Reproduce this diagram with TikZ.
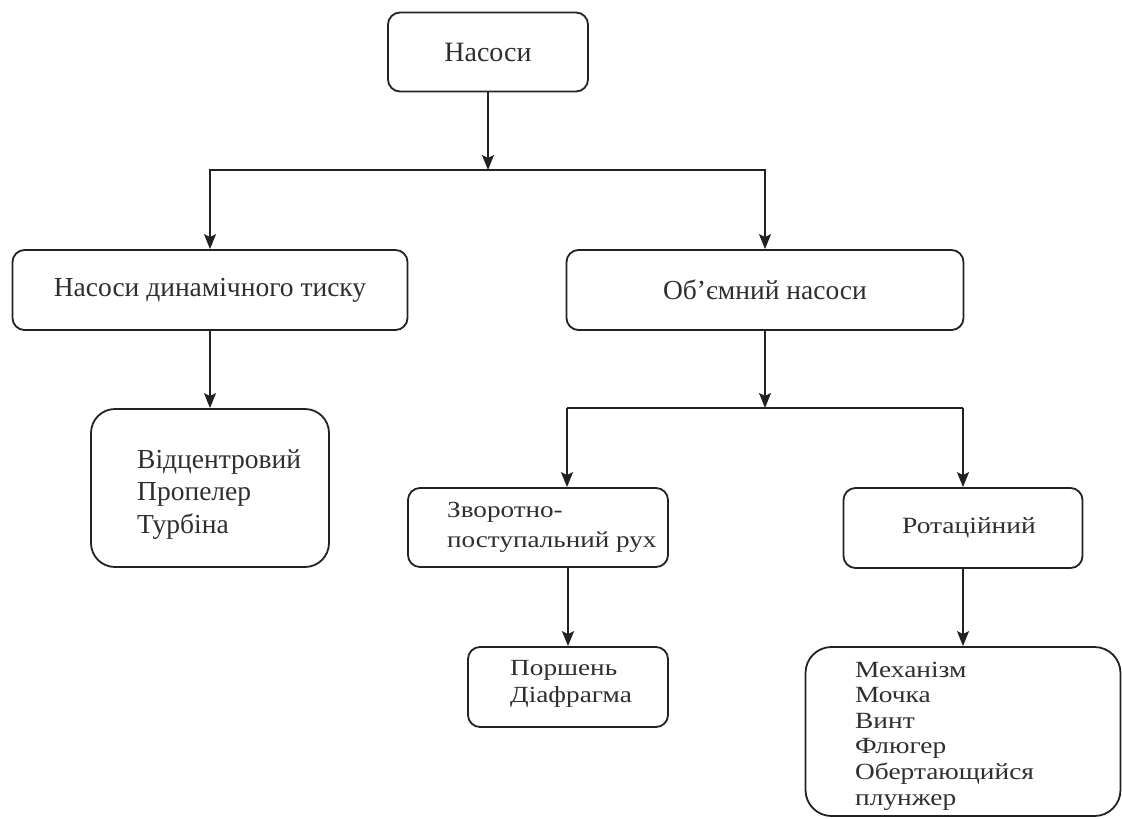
\documentclass[tikz,border=0pt]{standalone}
\usepackage{fontspec}
\setmainfont{Liberation Serif}
\newfontfamily\widefont[FakeStretch=1.18]{Liberation Serif}
\usetikzlibrary{arrows.meta}
\definecolor{ink}{HTML}{222222}
\definecolor{txt}{HTML}{2e2e2e}
\begin{document}
\begin{tikzpicture}[x=1pt,y=-1pt,
  box/.style={draw=ink,line width=1.8pt,rounded corners=#1,inner sep=0pt},
  box/.default=12pt,
  lst/.style={text=txt,inner sep=0pt,align=left,anchor=west},
  arr/.style={draw=ink,line width=1.8pt,-{Stealth[length=15pt,width=12pt,inset=3pt]}},
  ln/.style={draw=ink,line width=1.8pt}]
\useasboundingbox (0,0) rectangle (1122,819);
% boxes
\node[box,minimum width=200pt,minimum height=79pt,font=\fontsize{28}{32}\selectfont,text=txt] (A) at (488,52) {Насоси};
\node[box,minimum width=395pt,minimum height=80pt,font=\fontsize{27.5}{32}\selectfont,text=txt] (B) at (210,290) {Насоси динамічного тиску};
\node[box,minimum width=397pt,minimum height=80pt,font=\fontsize{27.5}{32}\selectfont,text=txt] (C) at (765,290) {Об’ємний насоси};
\node[box=24pt,minimum width=238pt,minimum height=158pt] (D) at (210,488) {};
\node[lst,font=\fontsize{27.5}{32.5}\selectfont] (Dt) at (137,494.5) {Відцентровий\\Пропелер\\Турбіна};
\node[box,minimum width=260pt,minimum height=79pt] (E) at (538,527.5) {};
\node[lst,font=\widefont\fontsize{23}{30}\selectfont] (Et) at (447,527) {Зворотно-\\поступальний рух};
\node[box,minimum width=200pt,minimum height=80pt] (F) at (568,687) {};
\node[lst,font=\widefont\fontsize{23.1}{27}\selectfont] (Ft) at (510,683.5) {Поршень\\Діафрагма};
\node[box,minimum width=239pt,minimum height=80pt,font=\widefont\fontsize{23.3}{26}\selectfont,text=txt] (G) at (963,528) {\hspace*{12pt}Ротаційний};
\node[box=26pt,minimum width=315pt,minimum height=169pt] (H) at (963,731.5) {};
\node[lst,font=\widefont\fontsize{23.2}{25.6}\selectfont] (Ht) at (855,736) {Механізм\\Мочка\\Винт\\Флюгер\\Обертающийся\\плунжер};
% junctions
\coordinate (j1) at (488,170);
\coordinate (j2) at (765,408);
\coordinate (j2l) at (567,408);
\coordinate (j2r) at (963,408);
% connectors
\draw[arr] (A) -- (j1);
\draw[arr] (j1) -| (B);
\draw[arr] (j1) -| (C);
\draw[arr] (B) -- (D);
\draw[arr] (C) -- (j2);
\draw[ln] (j2l) -- (j2r);
\draw[arr] (j2l) -- (j2l |- E.north);
\draw[arr] (j2r) -- (G);
\draw[arr] (F.north |- E.south) -- (F);
\draw[arr] (G) -- (H);
\end{tikzpicture}
\end{document}
